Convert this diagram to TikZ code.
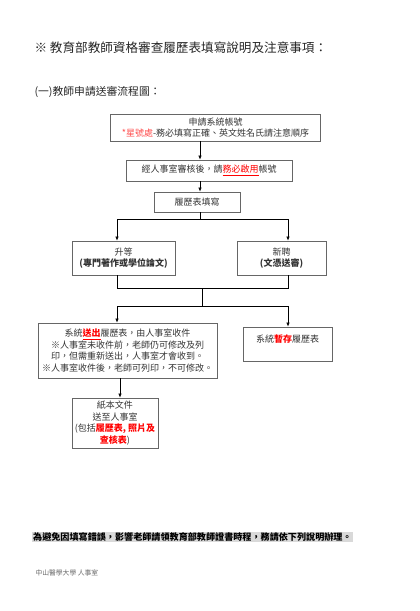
\documentclass[tikz,border=0pt]{standalone}
\usepackage{fontspec}
\setmainfont{Noto Sans CJK TC}
\usepackage{tikz}
\usetikzlibrary{arrows.meta,positioning,calc}

\begin{document}
\begin{tikzpicture}[x=1pt,y=-1pt,>={Latex[length=4pt,width=3.4pt]}]
  \tikzstyle{block}=[draw=black!60,line width=0.8pt,inner sep=1pt,align=center,text=black!80,font=\fontsize{9}{11.5}\selectfont]
  \tikzstyle{line}=[line width=0.6pt]
  \useasboundingbox (0,0) rectangle (420,611);

  \node[anchor=west,text=black!85,font=\fontsize{12.6}{14}\selectfont] (title) at (31,48) {※\ 教育部教師資格審查履歷表填寫說明及注意事項：};
  \node[anchor=west,text=black!85,font=\fontsize{10.8}{13}\selectfont] (subtitle) at (31,92) {(一)教師申請送審流程圖：};

  \node[block,minimum width=210pt,minimum height=27pt] (account) at (215.5,127.5) {申請系統帳號\\\textcolor{red!70}{*星號處}-務必填寫正確、英文姓名氏請注意順序};
  \node[block,minimum width=166pt,minimum height=21pt] (enable) at (209,170.5) {經人事室審核後，請\textcolor{red}{\underline{務必啟用}}帳號};
  \node[block,minimum width=86pt,minimum height=20pt] (fill) at (197,202) {履歷表填寫};
  \node[block,minimum width=103pt,minimum height=34pt] (promote) at (123.5,258) {升等\\\textbf{(專門著作或學位論文)}};
  \node[block,minimum width=89pt,minimum height=34pt] (hire) at (281.5,258) {新聘\\\textbf{(文憑送審)}};
  \node[block,minimum width=179pt,minimum height=55pt] (submit) at (127.5,350.5) {系統\textcolor{red}{\underline{\textbf{送出}}}履歷表，由人事室收件\\※人事室未收件前，老師仍可修改及列\\印，但需重新送出，人事室才會收到。\\※人事室收件後，老師可列印，不可修改。};
  \node[block,minimum width=89pt,minimum height=34pt] (save) at (287.5,344) {系統\textcolor{red}{\textbf{暫存}}履歷表\\~};
  \node[block,minimum width=86pt,minimum height=50pt] (paper) at (115,423) {紙本文件\\送至人事室\\(包括\textcolor{red}{\textbf{履歷表, 照片及}}\\\textcolor{red}{\textbf{查核表}})};

  \node[anchor=west,fill=black!15,inner sep=1pt,text=black,font=\fontsize{9.1}{11}\selectfont\bfseries] (notice) at (32,537) {為避免因填寫錯誤，影響老師請領教育部教師證書時程，務請依下列說明辦理。};
  \node[anchor=west,text=black!60,font=\fontsize{6.8}{8}\selectfont] (footer) at (32,573) {中山醫學大學\ 人事室};

  \draw[line,->] (account.south -| 200,0) -- (enable.north -| 200,0);
  \draw[line,->] (enable.south -| 200,0) -- (fill.north -| 200,0);

  \coordinate (splitA) at (200,219);
  \coordinate (splitL) at (117,219);
  \coordinate (splitR) at (288,219);
  \draw[line] (fill.south -| splitA) -- (splitA);
  \draw[line,->] (splitL) -- (promote.north -| splitL);
  \draw[line,->] (splitR) -- (hire.north -| splitR);
  \draw[line] (splitL) -- (splitR);

  \coordinate (joinL) at (117,288);
  \coordinate (joinR) at (288,288);
  \coordinate (joinM) at (202,288);
  \draw[line] (promote.south -| joinL) -- (joinL) -- (joinR) -- (hire.south -| joinR);

  \coordinate (forkM) at (202,306);
  \coordinate (forkL) at (117,306);
  \coordinate (forkR) at (288,306);
  \draw[line] (joinM) -- (forkM);
  \draw[line] (forkL) -- (forkR);
  \draw[line,->] (forkL) -- (submit.north -| forkL);
  \draw[line,->] (forkR) -- (save.north -| forkR);

  \draw[line,->] (submit.south -| 120,0) -- (paper.north -| 120,0);
\end{tikzpicture}
\end{document}
